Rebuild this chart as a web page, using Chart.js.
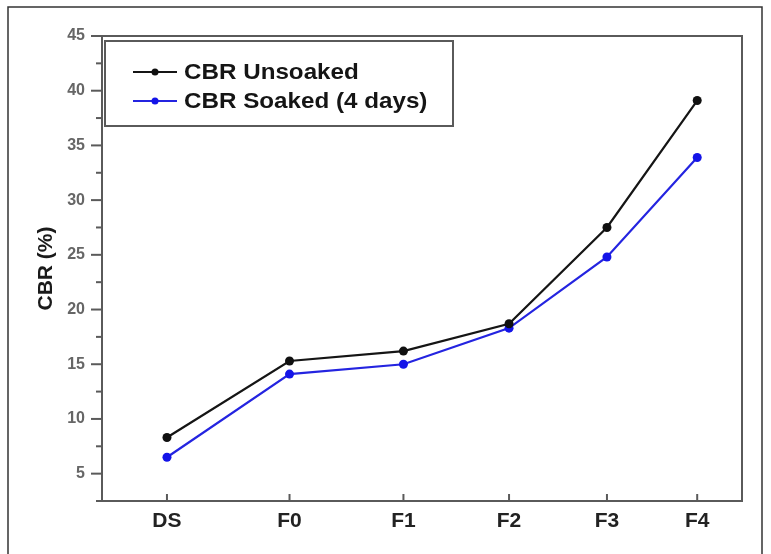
<!DOCTYPE html>
<html>
<head>
<meta charset="utf-8">
<script src="https://cdn.jsdelivr.net/npm/chart.js@4/dist/chart.umd.min.js"></script>
<style>
  html, body { margin: 0; padding: 0; background: #fff; }
  #wrap { position: relative; width: 771px; height: 554px; }
  canvas { display: block; }
</style>
</head>
<body>
<div id="wrap"><canvas id="c" width="771" height="554"></canvas></div>
<script>
// Mix designations and where each sits along the horizontal axis
const categories = ['DS', 'F0', 'F1', 'F2', 'F3', 'F4'];
const categoryPositions = [10.15, 29.3, 47.1, 63.6, 78.9, 93.0];

// CBR values (%)
const cbrUnsoaked = [8.3, 15.3, 16.2, 18.7, 27.5, 39.1];
const cbrSoaked = [6.5, 14.1, 15.0, 18.3, 24.8, 33.9];

const seriesNames = ['CBR Unsoaked', 'CBR Soaked (4 days)'];

const AXIS_COLOR = '#5a5a5a';
const FONT = '"Liberation Sans", Arial, sans-serif';

function toPoints(values) {
  return values.map((v, i) => ({ x: categoryPositions[i], y: v }));
}

// Frame, tick marks, legend box and outer border
const decorations = {
  id: 'decorations',
  beforeDatasetsDraw(chart) {
    const { ctx, chartArea: a, scales } = chart;
    ctx.save();
    ctx.strokeStyle = AXIS_COLOR;
    ctx.lineWidth = 2;
    ctx.strokeRect(a.left, a.top, a.right - a.left, a.bottom - a.top);

    // y ticks, outward
    const ys = scales.y;
    ys.ticks.forEach(t => {
      const py = ys.getPixelForValue(t.value);
      const major = Math.abs(t.value % 5) < 1e-6;
      const len = major ? 11 : 6;
      ctx.beginPath();
      ctx.moveTo(a.left - len, py);
      ctx.lineTo(a.left, py);
      ctx.stroke();
    });

    // x ticks, inward
    const xs = scales.x;
    categoryPositions.forEach(v => {
      const px = xs.getPixelForValue(v);
      ctx.beginPath();
      ctx.moveTo(px, a.bottom);
      ctx.lineTo(px, a.bottom - 7);
      ctx.stroke();
    });

    // outer border
    ctx.strokeStyle = '#333';
    ctx.lineWidth = 1.5;
    ctx.beginPath();
    ctx.moveTo(8, 560);
    ctx.lineTo(8, 7);
    ctx.lineTo(762, 7);
    ctx.lineTo(762, 560);
    ctx.stroke();
    ctx.restore();
  },
  afterDraw(chart) {
    const { ctx } = chart;
    ctx.save();
    // legend box
    ctx.fillStyle = '#fff';
    ctx.fillRect(105, 41, 348, 85);
    ctx.strokeStyle = AXIS_COLOR;
    ctx.lineWidth = 2;
    ctx.strokeRect(105, 41, 348, 85);

    const rows = [72, 101];
    chart.data.datasets.forEach((ds, i) => {
      const y = rows[i];
      ctx.strokeStyle = ds.borderColor;
      ctx.lineWidth = 2;
      ctx.beginPath();
      ctx.moveTo(133, y);
      ctx.lineTo(177, y);
      ctx.stroke();
      ctx.fillStyle = ds.pointBackgroundColor;
      ctx.beginPath();
      ctx.arc(155, y, 3.5, 0, Math.PI * 2);
      ctx.fill();

      ctx.save();
      ctx.translate(184, y);
      ctx.scale(1.1, 1);
      ctx.fillStyle = '#151515';
      ctx.font = 'bold 22px ' + FONT;
      ctx.textAlign = 'left';
      ctx.textBaseline = 'middle';
      ctx.fillText(ds.label, 0, 1);
      ctx.restore();
    });
    ctx.restore();
  }
};

new Chart(document.getElementById('c'), {
  type: 'line',
  data: {
    datasets: [
      {
        label: seriesNames[0],
        data: toPoints(cbrUnsoaked),
        borderColor: '#151515',
        backgroundColor: '#151515',
        pointBackgroundColor: '#101010',
        pointBorderColor: '#101010',
        borderWidth: 2.2,
        pointRadius: 4.5,
        pointBorderWidth: 0,
        tension: 0
      },
      {
        label: seriesNames[1],
        data: toPoints(cbrSoaked),
        borderColor: '#2424e0',
        backgroundColor: '#2424e0',
        pointBackgroundColor: '#1414e8',
        pointBorderColor: '#1414e8',
        borderWidth: 2.2,
        pointRadius: 4.5,
        pointBorderWidth: 0,
        tension: 0
      }
    ]
  },
  options: {
    responsive: false,
    animation: false,
    layout: { padding: { top: 36, right: 29, left: 0, bottom: 0 } },
    plugins: {
      legend: { display: false },
      tooltip: { enabled: false }
    },
    scales: {
      x: {
        type: 'linear',
        min: 0,
        max: 100,
        afterBuildTicks(axis) {
          axis.ticks = categoryPositions.map(v => ({ value: v }));
        },
        afterFit(axis) { axis.height = 53; },
        grid: { display: false, drawTicks: false },
        border: { display: false },
        ticks: {
          autoSkip: false,
          maxRotation: 0,
          padding: 8,
          color: '#222',
          font: { family: FONT, size: 21, weight: 'bold' },
          callback(value, index) { return categories[index]; }
        }
      },
      y: {
        min: 2.5,
        max: 45,
        afterFit(axis) { axis.width = 102; },
        grid: { display: false, drawTicks: false },
        border: { display: false },
        title: {
          display: true,
          text: 'CBR (%)',
          color: '#1a1a1a',
          font: { family: FONT, size: 21, weight: 'bold' },
          padding: { top: 34, bottom: 0 }
        },
        ticks: {
          stepSize: 2.5,
          padding: 17,
          color: '#666',
          font: { family: FONT, size: 16, weight: 'bold' },
          callback(value) {
            return Math.abs(value % 5) < 1e-6 ? String(value) : '';
          }
        }
      }
    }
  },
  plugins: [decorations]
});
</script>
</body>
</html>
